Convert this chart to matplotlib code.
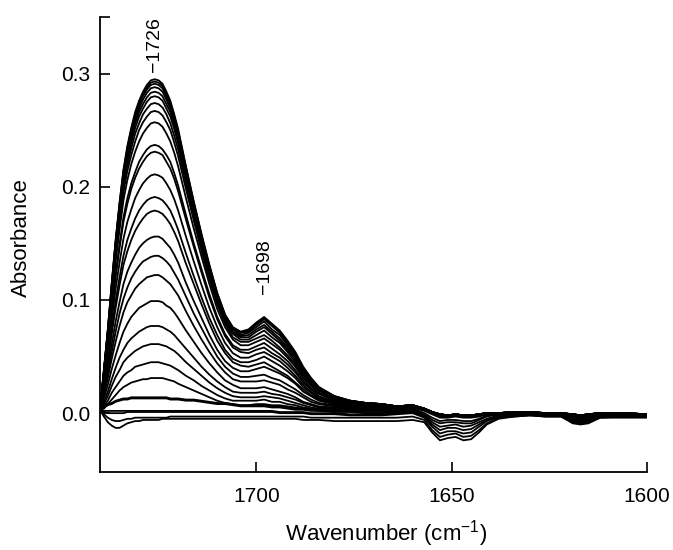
import matplotlib
matplotlib.use("Agg")
import matplotlib.pyplot as plt

plt.rcParams['font.family'] = ['Liberation Sans', 'DejaVu Sans']
plt.rcParams['mathtext.default'] = 'regular'

# wavenumber grid (cm-1) the spectra were read at
wavenumber = ([1740, 1739, 1738, 1737, 1736, 1735, 1734, 1733, 1732, 1731, 1730,
               1729, 1728, 1727, 1726, 1725, 1724, 1723, 1722, 1721, 1720]
              + [1718, 1716, 1714, 1712, 1710, 1708, 1706, 1704, 1702, 1700,
                 1698, 1696, 1694, 1692, 1690, 1688, 1686, 1684]
              + [1680, 1676, 1672, 1668, 1664, 1660, 1657, 1655, 1653, 1651,
                 1649, 1647, 1645, 1643, 1641, 1638, 1634, 1630, 1626, 1622,
                 1619, 1617, 1615, 1612, 1606, 1600])

# flat part 1664-1600 shared by the upper spectra
tail_hi = [.006, .007, .004, .001, -.001, -.002, -.001, -.002, -.002, -.001, .000,
           .000, .001, .001, .000, .000, -.001, -.002, -.001, .000, .000, -.001]
tail_mid = [.005, .006, .003, .000, -.002, -.003, -.002, -.003, -.003, -.002, -.001,
            -.001, .000, .000, -.001, -.001, -.002, -.003, -.002, -.001, -.001, -.002]

spec_01 = [.003, .038, .074, .115, .153, .186, .215, .236, .252, .266, .276, .284, .290, .294, .295, .294, .291, .284, .276, .264, .251,
           .218, .187, .158, .131, .106, .087, .076, .072, .074, .080, .085, .079, .073, .064, .054, .041, .031, .023,
           .015, .011, .009, .008] + tail_hi
spec_02 = [.003, .038, .073, .114, .152, .185, .214, .234, .251, .264, .274, .282, .288, .292, .293, .292, .289, .282, .274, .262, .249,
           .217, .186, .157, .130, .106, .087, .075, .071, .073, .079, .084, .078, .072, .063, .053, .040, .031, .023,
           .015, .011, .009, .008] + tail_hi
spec_03 = [.003, .038, .073, .113, .151, .183, .212, .233, .249, .262, .272, .280, .286, .290, .291, .290, .287, .280, .272, .260, .247,
           .215, .185, .156, .129, .105, .086, .075, .071, .072, .078, .083, .077, .071, .062, .052, .039, .030, .022,
           .015, .011, .009, .008] + tail_hi
spec_04 = [.003, .037, .072, .112, .150, .181, .210, .230, .246, .259, .269, .277, .283, .287, .288, .287, .284, .277, .269, .258, .245,
           .213, .183, .154, .127, .104, .085, .074, .069, .071, .076, .081, .074, .069, .060, .051, .038, .029, .022,
           .014, .011, .009, .008] + tail_hi
spec_05 = [.003, .037, .071, .111, .148, .179, .207, .227, .243, .256, .266, .273, .279, .283, .284, .283, .280, .273, .266, .254, .241,
           .210, .180, .152, .126, .102, .084, .072, .068, .069, .074, .078, .072, .066, .058, .049, .037, .028, .021,
           .014, .010, .009, .008] + tail_hi
spec_06 = [.003, .036, .070, .109, .146, .176, .204, .224, .239, .252, .262, .269, .275, .279, .280, .279, .276, .269, .262, .251, .238,
           .207, .178, .150, .124, .101, .083, .071, .067, .067, .072, .076, .070, .064, .056, .047, .036, .027, .020,
           .014, .010, .009, .008] + tail_hi
spec_07 = [.003, .036, .069, .107, .142, .173, .200, .219, .234, .247, .256, .264, .269, .273, .274, .273, .270, .264, .256, .245, .233,
           .203, .174, .147, .121, .099, .081, .070, .065, .065, .069, .073, .067, .062, .054, .045, .034, .026, .020,
           .013, .010, .009, .008] + tail_hi
spec_08 = [.003, .035, .067, .104, .139, .168, .195, .214, .228, .240, .250, .257, .262, .266, .267, .266, .263, .257, .250, .239, .227,
           .198, .170, .143, .118, .096, .079, .067, .063, .063, .066, .069, .064, .058, .051, .043, .032, .025, .018,
           .013, .010, .008, .008] + tail_hi
spec_09 = [.003, .033, .064, .100, .134, .162, .188, .206, .220, .231, .240, .247, .252, .256, .257, .256, .253, .247, .240, .230, .218,
           .190, .163, .138, .114, .092, .076, .065, .060, .060, .063, .066, .061, .056, .049, .041, .031, .024, .018,
           .012, .009, .008, .007] + tail_hi
spec_10 = [.003, .031, .059, .092, .123, .149, .173, .190, .203, .213, .222, .228, .233, .236, .237, .236, .233, .228, .222, .212, .201,
           .175, .150, .127, .105, .085, .070, .060, .056, .056, .059, .062, .057, .052, .046, .038, .029, .022, .017,
           .011, .009, .008, .007] + tail_hi
spec_11 = [.003, .030, .058, .090, .120, .146, .169, .185, .198, .208, .216, .222, .227, .230, .231, .230, .228, .222, .216, .207, .196,
           .171, .147, .124, .102, .083, .068, .058, .054, .053, .056, .058, .053, .049, .043, .036, .027, .021, .015,
           .010, .008, .007, .007] + tail_mid
spec_12 = [.003, .027, .053, .082, .110, .133, .154, .169, .180, .190, .197, .203, .207, .210, .211, .210, .208, .203, .197, .189, .179,
           .156, .134, .113, .093, .076, .062, .053, .049, .049, .052, .054, .050, .046, .040, .033, .025, .019, .014,
           .010, .008, .007, .006] + tail_mid
spec_13 = [.003, .025, .048, .074, .099, .120, .139, .153, .163, .172, .179, .184, .188, .190, .191, .190, .188, .184, .179, .171, .162,
           .141, .121, .102, .084, .069, .056, .048, .045, .045, .047, .050, .046, .042, .037, .031, .023, .018, .013,
           .009, .007, .006, .006] + tail_mid
spec_14 = [.003, .023, .045, .070, .093, .113, .131, .143, .153, .161, .167, .172, .176, .178, .179, .178, .176, .172, .167, .160, .152,
           .132, .114, .096, .079, .064, .053, .045, .042, .041, .043, .045, .041, .037, .033, .027, .021, .016, .012,
           .008, .007, .006, .006] + tail_mid
spec_15 = [.003, .020, .039, .061, .081, .098, .114, .125, .133, .140, .146, .150, .153, .155, .156, .156, .154, .150, .146, .140, .133,
           .115, .099, .084, .069, .056, .046, .040, .037, .037, .039, .041, .038, .035, .031, .026, .019, .015, .011,
           .008, .007, .006, .006] + tail_mid
spec_16 = [.003, .018, .035, .054, .072, .088, .101, .111, .119, .125, .130, .134, .136, .138, .139, .139, .137, .134, .130, .124, .118,
           .103, .088, .075, .062, .050, .041, .035, .032, .032, .033, .034, .031, .029, .025, .021, .016, .012, .009,
           .007, .006, .006, .005] + tail_mid
spec_17 = [.003, .016, .031, .048, .063, .077, .089, .098, .104, .110, .114, .117, .120, .121, .122, .122, .120, .117, .114, .109, .104,
           .090, .077, .065, .054, .044, .036, .030, .028, .028, .028, .029, .027, .025, .021, .018, .014, .010, .008,
           .006, .006, .005, .005] + tail_mid
spec_18 = [.003, .013, .025, .039, .051, .062, .072, .079, .085, .089, .093, .095, .097, .099, .099, .099, .098, .095, .093, .089, .084,
           .073, .063, .053, .044, .036, .029, .025, .022, .022, .022, .023, .021, .019, .017, .014, .010, .008, .006,
           .005, .005, .005, .005] + tail_mid
spec_19 = [.003, .010, .019, .030, .040, .049, .056, .062, .066, .069, .072, .074, .076, .077, .077, .077, .076, .074, .072, .069, .065,
           .057, .049, .041, .034, .028, .023, .019, .018, .018, .018, .019, .017, .016, .014, .012, .009, .007, .005,
           .004, .004, .004, .005] + tail_mid
spec_20 = [.003, .008, .015, .024, .032, .038, .045, .049, .052, .055, .057, .059, .060, .061, .061, .061, .060, .059, .057, .055, .052,
           .045, .039, .033, .027, .022, .018, .015, .014, .014, .014, .015, .014, .013, .011, .009, .007, .005, .004,
           .004, .004, .004, .004] + tail_mid
spec_21 = [.003, .006, .011, .018, .023, .028, .033, .036, .038, .041, .042, .043, .044, .045, .045, .045, .044, .043, .042, .040, .038,
           .033, .029, .024, .020, .016, .013, .011, .011, .011, .011, .012, .010, .010, .008, .007, .005, .004, .003,
           .003, .003, .003, .003, .004, .005, .002, -.001, -.004, -.004, -.003, -.004, -.004, -.003, -.001,
           .000, .000, .000, -.001, -.001, -.002, -.003, -.002, -.001, -.001, -.002]
spec_22 = [.003, .004, .008, .012, .016, .020, .023, .025, .027, .028, .029, .030, .030, .031, .031, .031, .031, .030, .029, .028, .026,
           .023, .020, .017, .014, .011, .009, .008, .007, .007, .008, .008, .007, .007, .006, .005, .004, .003, .002,
           .002, .002, .002, .002, .003, .004, .000, -.004, -.007, -.006, -.006, -.007, -.007, -.005, -.002,
           -.001, .000, .000, -.001, -.001, -.003, -.004, -.003, -.001, -.001, -.002]
spec_23 = [.003, .006, .008, .009, .011, .012, .013, .013, .014, .014, .014, .014, .014, .014, .014, .014, .014, .014, .013, .013, .013,
           .012, .012, .011, .010, .009, .009, .008, .007, .007, .007, .007, .006, .006, .005, .004, .004, .003, .003,
           .002, .002, .001, .001, .002, .003, -.001, -.006, -.009, -.008, -.008, -.009, -.009, -.006, -.003,
           -.001, -.001, .000, -.001, -.002, -.004, -.005, -.004, -.002, -.002, -.002]
spec_24 = [.003, .005, .007, .008, .010, .011, .012, .012, .013, .013, .013, .013, .013, .013, .013, .013, .013, .013, .012, .012, .012,
           .011, .011, .010, .009, .008, .008, .007, .006, .006, .006, .006, .005, .005, .004, .003, .003, .002, .002,
           .001, .001, .000, .000, .001, .002, -.002, -.008, -.012, -.011, -.010, -.012, -.011, -.008, -.005,
           -.002, -.001, .000, -.001, -.002, -.005, -.006, -.005, -.002, -.002, -.003]
spec_25 = [.003, .002, .002, .002, .002, .002, .002, .002, .002, .002, .002, .002, .002, .002, .002, .002, .002, .002, .002, .002, .002,
           .002, .002, .002, .002, .002, .002, .002, .002, .002, .002, .002, .002, .001, .001, .001, .001, .000, .000,
           .000, -.001, -.001, -.001, .000, .001, -.003, -.010, -.015, -.013, -.013, -.015, -.014, -.010, -.006,
           -.003, -.002, -.001, -.002, -.002, -.006, -.007, -.006, -.003, -.002, -.003]
spec_26 = [.003, .001, .000, .000, .000, .000, .000, .001, .001, .001, .001, .001, .001, .001, .001, .001, .001, .001, .001, .001, .001,
           .001, .001, .001, .001, .001, .001, .001, .001, .001, .001, .001, .001, .000, .000, .000, .000, -.001, -.001,
           -.001, -.002, -.002, -.002, -.001, .000, -.004, -.012, -.018, -.016, -.016, -.018, -.017, -.012, -.007,
           -.003, -.002, -.001, -.002, -.002, -.007, -.008, -.007, -.003, -.003, -.003]
spec_27 = [.003, -.001, -.004, -.006, -.007, -.007, -.006, -.005, -.005, -.004, -.004, -.004, -.004, -.004, -.004, -.004, -.004, -.004, -.003, -.003, -.003,
           -.003, -.003, -.003, -.003, -.003, -.003, -.003, -.003, -.003, -.003, -.003, -.003, -.003, -.003, -.003, -.003, -.004, -.004,
           -.004, -.004, -.004, -.004, -.004, -.003, -.006, -.015, -.021, -.019, -.018, -.021, -.020, -.015, -.009,
           -.004, -.003, -.002, -.003, -.003, -.008, -.009, -.008, -.004, -.003, -.003]
spec_28 = [.003, -.003, -.008, -.011, -.013, -.013, -.011, -.009, -.008, -.007, -.007, -.006, -.006, -.006, -.006, -.006, -.005, -.005, -.005, -.005, -.005,
           -.005, -.005, -.005, -.005, -.005, -.005, -.005, -.005, -.005, -.005, -.005, -.005, -.005, -.005, -.005, -.006, -.006, -.006,
           -.007, -.007, -.007, -.007, -.007, -.006, -.008, -.017, -.024, -.022, -.021, -.024, -.023, -.017, -.010,
           -.005, -.003, -.002, -.003, -.003, -.009, -.010, -.009, -.004, -.004, -.004]

spectra = [spec_01, spec_02, spec_03, spec_04, spec_05, spec_06, spec_07,
           spec_08, spec_09, spec_10, spec_11, spec_12, spec_13, spec_14,
           spec_15, spec_16, spec_17, spec_18, spec_19, spec_20, spec_21,
           spec_22, spec_23, spec_24, spec_25, spec_26, spec_27, spec_28]

peak_labels = [(1726, 0.301, '\u22121726'), (1698, 0.105, '\u22121698')]

for i, s in enumerate(spectra):
    assert len(s) == len(wavenumber), (i + 1, len(s), len(wavenumber))

fig = plt.figure(figsize=(6.73, 5.5), dpi=100)
ax = fig.add_axes([0.1486, 0.1418, 0.8128, 0.8273])

for s in spectra:
    ax.plot(wavenumber, s, color='black', lw=1.3, solid_joinstyle='round')

for x, y, txt in peak_labels:
    ax.text(x, y, txt, rotation=90, ha='center', va='bottom', fontsize=14)

ax.set_xlim(1740, 1600)
ax.set_ylim(-0.052, 0.35)
ax.set_xticks([1700, 1650, 1600])
ax.set_yticks([0.0, 0.1, 0.2, 0.3, 0.35])
ax.set_yticklabels(['0.0', '0.1', '0.2', '0.3', ''])

for side in ['top', 'right']:
    ax.spines[side].set_visible(False)
for side in ['left', 'bottom']:
    ax.spines[side].set_linewidth(1.3)

ax.tick_params(axis='both', direction='in', length=7, width=1.2, labelsize=15)
ax.tick_params(axis='x', pad=10.5)
ax.tick_params(axis='y', pad=7)

ax.set_xlabel('Wavenumber (cm$^{\u22121}$)', fontsize=16)
ax.set_ylabel('Absorbance', fontsize=16)
ax.xaxis.set_label_coords(0.523, -0.101)
ax.yaxis.set_label_coords(-0.1243, 0.515)

fig.savefig('out.png', dpi=100)
